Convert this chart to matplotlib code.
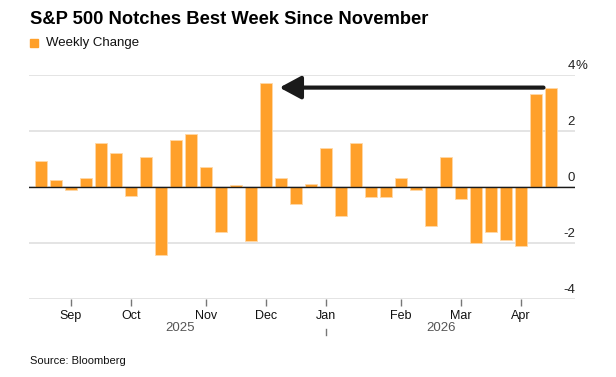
import numpy as np
import pandas as pd
import matplotlib
matplotlib.use('Agg')
import matplotlib.pyplot as plt

plt.rcParams['font.family'] = ['Liberation Sans', 'DejaVu Sans']

# weekly S&P 500 change, % (week ending Friday)
weeks = pd.date_range('2025-08-22', periods=35, freq='7D')
weekly_change = [0.94, 0.26, -0.11, 0.32, 1.58, 1.21, -0.31, 1.08, -2.43, 1.69,
                 1.90, 0.70, -1.62, 0.08, -1.94, 3.71, 0.31, -0.62, 0.11, 1.38,
                 -1.04, 1.56, -0.37, -0.36, 0.33, -0.10, -1.38, 1.06, -0.44, -2.01,
                 -1.60, -1.88, -2.11, 3.33, 3.54]
y_ticks = [-4, -2, 0, 2, 4]
years = ['2025', '2026']

orange = '#ffa02a'
grid_col = '#dcdcdc'

fig = plt.figure(figsize=(6.16, 3.77), dpi=100)
ax = fig.add_axes([29 / 616, 1 - 299 / 377, 546 / 616, 224 / 377])

x = np.arange(len(weeks))
ax.bar(x, weekly_change, width=0.76, color=orange, edgecolor='#ffd8a6',
       linewidth=0.6, zorder=3)

ax.set_xlim(-0.8, 35.6)
ax.set_ylim(-4, 4)

# gridlines + zero line
for v in y_ticks:
    ax.axhline(v, color=grid_col, lw=1.1, zorder=1)
ax.axhline(0, color='#1a1a1a', lw=1.0, zorder=4)

# right-hand labels sitting above the gridlines
for v in y_ticks:
    ax.text(1.0, v + 0.32, str(v), transform=ax.get_yaxis_transform(), ha='right',
            va='center', fontsize=9.5, color='#222222')
ax.text(1.0, 4 + 0.32, '%', transform=ax.get_yaxis_transform(), ha='left',
        va='center', fontsize=9.5, color='#222222')

for s in ax.spines.values():
    s.set_visible(False)
ax.set_yticks([])

# month ticks at the first week of each month
month_pos = [i for i in range(1, len(weeks)) if weeks[i].month != weeks[i - 1].month]
ax.set_xticks(month_pos)
ax.set_xticklabels([weeks[i].strftime('%b') for i in month_pos])
ax.tick_params(axis='x', length=5, width=1, color='#777777', pad=3,
               labelsize=9, labelcolor='#111111')

# year labels + separator under Jan
jan = [i for i in month_pos if weeks[i].month == 1][0]
ax.text(9.3, -0.13, years[0], transform=ax.get_xaxis_transform(), ha='center',
        va='center', fontsize=9.5, color='#555555')
ax.text(26.7, -0.13, years[1], transform=ax.get_xaxis_transform(), ha='center',
        va='center', fontsize=9.5, color='#555555')
ax.plot([jan, jan], [-0.135, -0.16], transform=ax.get_xaxis_transform(),
        color='#777777', lw=1, clip_on=False)

# arrow from latest week back to the Dec peak
ax.annotate('', xy=(15.9, 3.55), xytext=(33.5, 3.55),
            arrowprops=dict(arrowstyle='-|>,head_length=1.3,head_width=0.7',
                            color='#1a1a1a', lw=3, shrinkA=0, shrinkB=0),
            zorder=5)

fig.text(30 / 616, 1 - 19 / 377, 'S&P 500 Notches Best Week Since November',
         fontsize=13.2, fontweight='bold', va='center', ha='left', color='#000000')
fig.patches.append(plt.Rectangle((30 / 616, 1 - 47 / 377), 8 / 616, 8 / 377,
                                 transform=fig.transFigure, color=orange))
fig.text(46 / 616, 1 - 43 / 377, 'Weekly Change', fontsize=9.5, va='center',
         ha='left', color='#111111')
fig.text(30 / 616, 1 - 361 / 377, 'Source: Bloomberg', fontsize=8, va='center',
         ha='left', color='#111111')

fig.savefig('out.png', dpi=100)
